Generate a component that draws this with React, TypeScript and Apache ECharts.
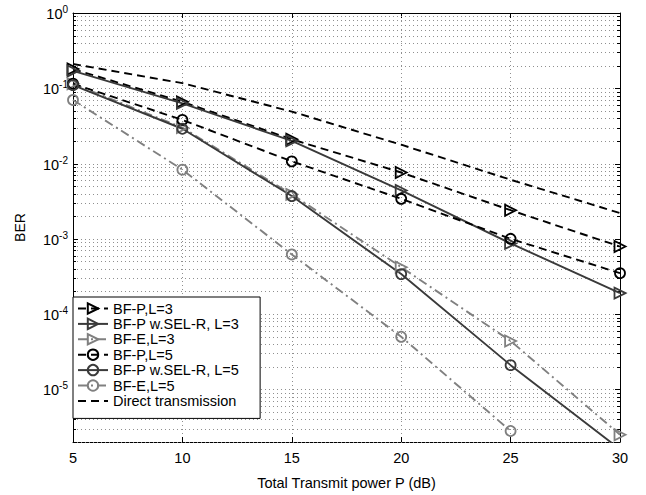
import React, { useEffect, useRef } from "react";
import * as echarts from "echarts";

// ---- data ----
const powerDb = [5, 10, 15, 20, 25, 30];
const berBfP_L3 = [0.18, 0.066, 0.021, 0.0076, 0.0024, 0.00079];
const berBfPSel_L3 = [0.17, 0.063, 0.02, 0.0044, 0.00087, 0.00019];
const berBfE_L3 = [0.115, 0.03, 0.0039, 0.00042, 0.000044, 0.0000025];
const berBfP_L5 = [0.115, 0.038, 0.0107, 0.0034, 0.001, 0.00035];
const berBfPSel_L5 = [0.11, 0.029, 0.0037, 0.00034, 0.000021, 0.0000016];
const berBfE_L5 = [0.07, 0.0083, 0.00062, 0.00005, 0.0000028];
const berDirect = [0.21, 0.117, 0.049, 0.0178, 0.0061, 0.0022];

const xTicks = [5, 10, 15, 20, 25, 30];
const yDecadeExponents = [-5, -4, -3, -2, -1, 0];
const yMinBer = 2e-6;
const yMaxBer = 1;

const seriesNames = [
  "BF-P,L=3",
  "BF-P w.SEL-R, L=3",
  "BF-E,L=3",
  "BF-P,L=5",
  "BF-P w.SEL-R, L=5",
  "BF-E,L=5",
  "Direct transmission",
];

const FONT = "'Liberation Sans', Arial, Helvetica, sans-serif";
const LOG_MIN = Math.log10(yMinBer);
const LOG_MAX = Math.log10(yMaxBer);

const toPoints = (vals: number[]) => vals.map((v, i) => [powerDb[i], Math.log10(v)]);

// grid line values: k * 10^n inside the y range
const gridLogValues: number[] = [];
for (let n = -6; n <= -1; n++) {
  for (let k = 1; k <= 9; k++) {
    const v = k * Math.pow(10, n);
    if (v >= yMinBer * 0.999 && v < yMaxBer) gridLogValues.push(Math.log10(v));
  }
}

const BLACK = "#000000";
const DARK = "#3a3a3a";
const GRAY = "#808080";
const CLEAR = "rgba(255,255,255,0)";
const DASH = [8, 5];
const DASHDOT = [9, 4, 2, 4];

function lineSeries(
  name: string,
  vals: number[],
  color: string,
  type: any,
  symbol: string,
  rotate = 0
) {
  const hasSymbol = symbol !== "none";
  return {
    name,
    type: "line",
    xAxisIndex: 0,
    yAxisIndex: 0,
    data: toPoints(vals),
    symbol,
    symbolSize: symbol === "circle" ? 10 : 11,
    symbolRotate: rotate,
    showSymbol: hasSymbol,
    lineStyle: { color, width: 1.9, type },
    itemStyle: {
      color: CLEAR,
      borderColor: hasSymbol ? color : CLEAR,
      borderWidth: hasSymbol ? 1.8 : 0,
      opacity: 1,
    },
    emphasis: { disabled: true },
    z: 3,
  };
}

export default function App() {
  const ref = useRef<HTMLDivElement>(null);

  useEffect(() => {
    document.body.style.margin = "0";
    if (!ref.current) return;
    const chart = echarts.init(ref.current, undefined, { renderer: "svg" });

    const gridSeries = {
      name: "grid",
      type: "custom",
      xAxisIndex: 0,
      yAxisIndex: 0,
      silent: true,
      z: 1,
      data: gridLogValues.map((v) => [xTicks[0], v]),
      renderItem: (params: any, api: any) => {
        const v = api.value(1);
        const a = api.coord([xTicks[0], v]);
        const b = api.coord([xTicks[xTicks.length - 1], v]);
        const major = Math.abs(v - Math.round(v)) < 1e-9;
        const t = major ? 5 : 3;
        const y = Math.round(a[1]) + 0.5;
        return {
          type: "group",
          children: [
            {
              type: "line",
              shape: { x1: a[0], y1: y, x2: b[0], y2: y },
              style: { stroke: "#8f8f8f", lineWidth: 1, lineDash: [1, 3] },
            },
            {
              type: "line",
              shape: { x1: a[0], y1: y, x2: a[0] + t, y2: y },
              style: { stroke: BLACK, lineWidth: 1 },
            },
            {
              type: "line",
              shape: { x1: b[0], y1: y, x2: b[0] - t, y2: y },
              style: { stroke: BLACK, lineWidth: 1 },
            },
          ],
        };
      },
    };

    const xAxisBase = {
      type: "value",
      min: xTicks[0],
      max: xTicks[xTicks.length - 1],
      interval: 5,
      axisLine: { show: true, onZero: false, lineStyle: { color: BLACK, width: 1 } },
      axisTick: { show: true, inside: true, length: 5, lineStyle: { color: BLACK } },
    };

    const legendData = seriesNames.map((name, i) =>
      i === seriesNames.length - 1
        ? { name, itemStyle: { color: CLEAR, borderColor: CLEAR, borderWidth: 0, opacity: 0 } }
        : { name }
    );

    const option: any = {
      animation: false,
      backgroundColor: "#ffffff",
      textStyle: { fontFamily: FONT },
      grid: { left: 73, right: 26, top: 13, bottom: 52, containLabel: false },
      xAxis: [
        {
          ...xAxisBase,
          position: "bottom",
          name: "Total Transmit power P (dB)",
          nameLocation: "middle",
          nameGap: 33,
          nameTextStyle: { fontSize: 14.5, color: BLACK, fontFamily: FONT },
          axisLabel: { show: true, margin: 8, fontSize: 14.5, color: BLACK, fontFamily: FONT },
          splitLine: { show: true, lineStyle: { color: "#8f8f8f", width: 1, type: [1, 3] } },
        },
        {
          ...xAxisBase,
          position: "top",
          axisLabel: { show: false },
          splitLine: { show: false },
        },
      ],
      yAxis: [
        {
          type: "value",
          position: "left",
          min: LOG_MIN,
          max: LOG_MAX,
          name: "BER",
          nameLocation: "middle",
          nameGap: 46,
          nameTextStyle: { fontSize: 14, color: BLACK, fontFamily: FONT },
          axisLine: { show: true, onZero: false, lineStyle: { color: BLACK, width: 1 } },
          axisTick: { show: false },
          splitLine: { show: false },
          axisLabel: {
            show: true,
            margin: 5,
            customValues: yDecadeExponents,
            formatter: (v: number) => `{b|10}{s|${Math.round(v)}}`,
            rich: {
              b: { fontSize: 14.5, fontFamily: FONT, color: BLACK, lineHeight: 17, verticalAlign: "bottom" },
              s: { fontSize: 10, fontFamily: FONT, color: BLACK, lineHeight: 17, verticalAlign: "top" },
            },
          },
        },
        {
          type: "value",
          position: "right",
          min: LOG_MIN,
          max: LOG_MAX,
          axisLine: { show: true, onZero: false, lineStyle: { color: BLACK, width: 1 } },
          axisTick: { show: false },
          axisLabel: { show: false },
          splitLine: { show: false },
        },
      ],
      legend: {
        data: legendData,
        orient: "vertical",
        left: 73,
        top: 297,
        backgroundColor: "#ffffff",
        borderColor: BLACK,
        borderWidth: 1,
        borderRadius: 0,
        padding: [4, 21, 10, 4],
        itemGap: 0.4,
        itemWidth: 30,
        itemHeight: 13,
        selectedMode: false,
        textStyle: { fontSize: 14.5, lineHeight: 15, color: BLACK, fontFamily: FONT },
        z: 10,
      },
      series: [
        gridSeries,
        lineSeries(seriesNames[0], berBfP_L3, BLACK, DASH, "triangle", -90),
        lineSeries(seriesNames[1], berBfPSel_L3, DARK, "solid", "triangle", -90),
        lineSeries(seriesNames[2], berBfE_L3, GRAY, DASHDOT, "triangle", -90),
        lineSeries(seriesNames[3], berBfP_L5, BLACK, DASH, "circle"),
        lineSeries(seriesNames[4], berBfPSel_L5, DARK, "solid", "circle"),
        lineSeries(seriesNames[5], berBfE_L5, GRAY, DASHDOT, "circle"),
        lineSeries(seriesNames[6], berDirect, BLACK, DASH, "none"),
      ],
    };

    chart.setOption(option);
    return () => chart.dispose();
  }, []);

  return (
    <div
      ref={ref}
      style={{ position: "fixed", left: 0, top: 0, width: 646, height: 495 }}
    />
  );
}
